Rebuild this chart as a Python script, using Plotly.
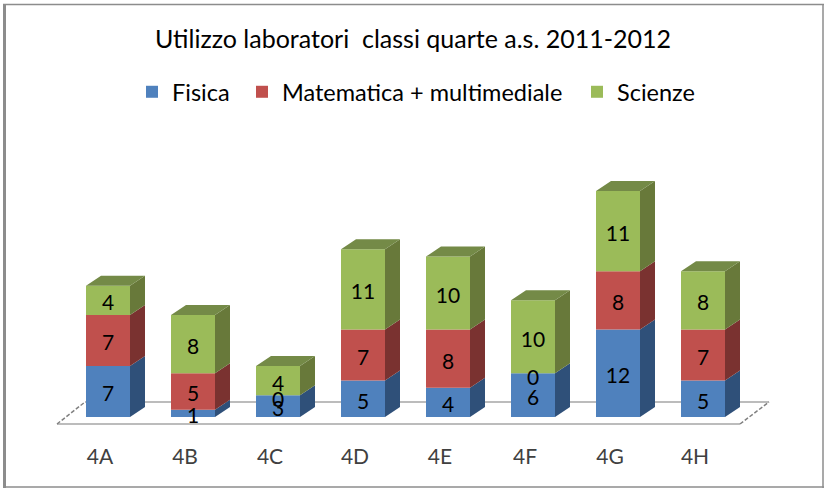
import plotly.graph_objects as go

W, H = 825, 488
categories = ["4A", "4B", "4C", "4D", "4E", "4F", "4G", "4H"]
fisica = [7, 1, 3, 5, 4, 6, 12, 5]
matematica = [7, 5, 0, 7, 8, 0, 8, 7]
scienze = [4, 8, 4, 11, 10, 10, 11, 8]
series_names = ["Fisica", "Matematica + multimediale", "Scienze"]
series_values = [fisica, matematica, scienze]
front_colors = ["#4F81BD", "#C0504D", "#9BBB59"]
side_colors = ["#2F5079", "#7A3230", "#68793A"]
top_color = "#748A47"
legend_ids = ["legend", "legend2", "legend3"]
legend_px = [132, 242, 577]

# pixel geometry of the plot
PX0, PX_STEP = 108.0, 85.0       # x pixel of category 0, pixels per category
BASE_PX, PX_UNIT = 417.0, 7.29   # y pixel of value 0, pixels per value
PLOT_TOP, PLOT_BOT = 110.0, 424.0
BAR_W = 44.0 / PX_STEP
DX, DY = 15.0 / PX_STEP, 10.0 / PX_UNIT
TICK_SHIFT = 8.0 / PX_STEP
FONT = "Lato"

xs = list(range(len(categories)))
fig = go.Figure()

bases = [0] * len(categories)
label_x, label_y, label_t = [], [], []
for name, vals, fc, sc, lg in zip(series_names, series_values, front_colors, side_colors, legend_ids):
    fig.add_trace(go.Bar(x=xs, y=vals, base=bases, name=name, width=BAR_W, legend=lg,
                         marker=dict(color=fc, line=dict(width=0)), hoverinfo="skip"))
    sx, sy = [], []
    for i, v in enumerate(vals):
        if v == 0:
            continue
        r = i + BAR_W / 2
        b0, b1 = bases[i], bases[i] + v
        sx += [r, r + DX, r + DX, r, r, None]
        sy += [b0, b0 + DY, b1 + DY, b1, b0, None]
        label_x.append(i); label_y.append((b0 + b1) / 2 - 0.65); label_t.append(str(v))
    for i, v in enumerate(vals):
        if v == 0:
            label_x.append(i); label_y.append(bases[i] - 0.85); label_t.append("0")
    fig.add_trace(go.Scatter(x=sx, y=sy, mode="lines", fill="toself", fillcolor=sc,
                             line=dict(width=0, color=sc), showlegend=False, hoverinfo="skip"))
    bases = [b + v for b, v in zip(bases, vals)]

tx, ty = [], []
for i, t in enumerate(bases):
    l, r = i - BAR_W / 2, i + BAR_W / 2
    tx += [l, r, r + DX, l + DX, l, None]
    ty += [t, t, t + DY, t + DY, t, None]
fig.add_trace(go.Scatter(x=tx, y=ty, mode="lines", fill="toself", fillcolor=top_color,
                         line=dict(width=0, color=top_color), showlegend=False, hoverinfo="skip"))
fig.add_trace(go.Scatter(x=label_x, y=label_y, text=label_t, mode="text",
                         textposition="middle center",
                         textfont=dict(family=FONT, size=21, color="#000000"),
                         showlegend=False, hoverinfo="skip"))


def py(p):
    return (PLOT_BOT - p) / (PLOT_BOT - PLOT_TOP)


def px(p):
    return p / W


def seg(x0, y0, x1, y1, color, width, dash="solid"):
    return dict(type="line", xref="paper", yref="paper", x0=px(x0), x1=px(x1), y0=py(y0), y1=py(y1),
                line=dict(color=color, width=width, dash=dash), layer="below")


gray = "#A6A6A6"
border = "#8C8C8C"
shapes = [
    seg(3, 4.5, 824, 4.5, border, 1.5),
    seg(4.5, 4, 4.5, 488, border, 3),
    seg(3, 487, 824, 487, border, 1.5),
    seg(823, 4, 823, 488, border, 1.5),
    seg(57, 424, 740, 424, gray, 1.5),
    seg(85, 402, 769, 402, gray, 1.5),
    seg(57, 424, 85, 402, "#808080", 1.5, "4px,2px"),
    seg(740, 424, 769, 402, "#808080", 1.5, "4px,2px"),
]

legend_common = dict(orientation="h", xanchor="left", y=py(92), yanchor="middle",
                     font=dict(family=FONT, size=23.5, color="#000000"), bgcolor="rgba(0,0,0,0)",
                     itemwidth=30)

fig.update_layout(
    width=W, height=H, autosize=False, barmode="overlay",
    margin=dict(l=0, r=0, t=PLOT_TOP, b=H - PLOT_BOT, pad=0),
    paper_bgcolor="#FFFFFF", plot_bgcolor="rgba(0,0,0,0)",
    font=dict(family=FONT, color="#000000"),
    title=dict(text="Utilizzo laboratori  classi quarte a.s. 2011-2012", x=413 / W, xanchor="center",
               y=1 - 39 / H, yanchor="middle", font=dict(family=FONT, size=25, color="#000000")),
    legend=dict(x=px(legend_px[0]), **legend_common),
    legend2=dict(x=px(legend_px[1]), **legend_common),
    legend3=dict(x=px(legend_px[2]), **legend_common),
    xaxis=dict(range=[-PX0 / PX_STEP, (W - PX0) / PX_STEP], tickmode="array",
               tickvals=[x - TICK_SHIFT for x in xs],
               ticktext=categories, ticks="", showgrid=False, zeroline=False, showline=False,
               tickfont=dict(family=FONT, size=21, color="#404040"), ticklabelstandoff=18),
    yaxis=dict(range=[(BASE_PX - PLOT_BOT) / PX_UNIT, (BASE_PX - PLOT_TOP) / PX_UNIT], visible=False),
    shapes=shapes, showlegend=True,
)
fig.write_html("out.html", config=dict(displayModeBar=False),
               post_script="document.body.style.margin='0';")
